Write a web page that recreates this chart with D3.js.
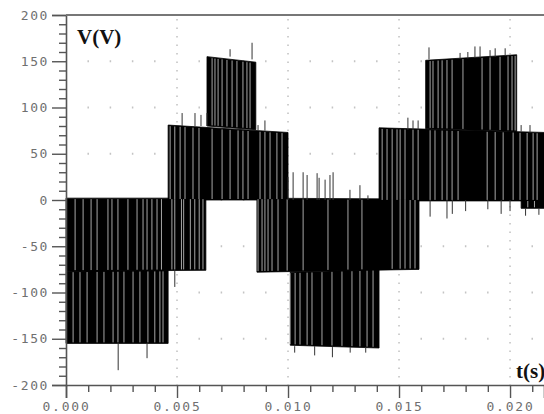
<!DOCTYPE html>
<html><head><meta charset="utf-8">
<script src="https://cdn.jsdelivr.net/npm/d3@7/dist/d3.min.js"></script>
<style>
html,body{margin:0;padding:0;background:#fff;overflow:hidden}
svg{display:block}
</style></head>
<body>
<svg id="chart" width="544" height="414"></svg>
<script>
// ---- data (time in ms, voltage in V) ----
const xMajorTicks = [0, 5, 10, 15, 20];
const xTickLabels = ["0.000", "0.005", "0.010", "0.015", "0.020"];
const yMajorTicks = [-200, -150, -100, -50, 0, 50, 100, 150, 200];
const yTickLabels = ["-200", "-150", "-100", "-50", "0", "50", "100", "150", "200"];

// voltage bands (dense PWM switching between two levels)
const bandT0  = [0,    0,    4.6,  6.35, 8.6,  10.1, 14.1, 16.2, 20.5];
const bandT1  = [6.3,  4.6,  10.0, 8.55, 15.9, 14.1, 21.6, 20.3, 21.6];
const bandLo0 = [-77, -155,  0,    80,  -78,  -157, -1,    77,  -9];
const bandLo1 = [-76, -155,  0,    76,  -75,  -160, -1,    74,  -9];
const bandHi0 = [2,   -77,   81,   155,  2,   -78,   78,   151,  0];
const bandHi1 = [2,   -76,   73,   149,  1,   -75,   73,   157,  0];

// white gaps between pulses, per band
const gapsA1 = [0.41, 0.77, 1.13, 1.4, 1.89, 2.07, 2.34, 2.79, 3.2, 3.47, 3.65, 3.87, 4.1, 4.3, 4.77, 4.9, 5.2, 5.3, 5.6, 5.8, 6.0, 6.17];
const gapsA2 = [0.32, 0.63, 0.95, 1.4, 1.71, 2.12, 2.34, 2.61, 3.02, 3.33, 3.69, 4.0, 4.23, 4.37];
const gapsB1 = [4.69, 4.9, 5.14, 5.36, 5.72, 5.99, 6.58, 7.03, 7.39, 7.75, 7.97, 8.2, 8.74, 8.96, 9.19, 9.5, 9.73];
const gapsB2 = [6.58, 6.71, 6.85, 7.03, 7.25, 7.48, 7.7, 7.97, 8.15, 8.29];
const gapsC1 = [8.65, 8.83, 8.96, 9.1, 9.28, 9.55, 9.96, 10.68, 11.8, 12.7, 13.33, 14.69, 15.05, 15.27, 15.5, 15.72];
const gapsC2 = [10.09, 10.32, 10.54, 10.86, 11.08, 11.53, 11.98, 12.43, 12.88, 13.24, 13.56, 13.83];
const gapsD1 = [14.24, 14.46, 14.69, 14.91, 15.05, 15.27, 15.63, 15.86, 16.4, 16.62, 16.94, 17.16, 17.39, 17.66, 18.97, 19.33, 19.69, 20.14, 20.45, 20.77, 21.04, 21.22];
const gapsD2 = [16.4, 16.53, 16.76, 16.94, 17.16, 17.39, 17.88, 18.74, 19.1, 19.55, 19.91, 20.09, 20.23];
const gapsE  = [20.8, 21.1];
const bandGaps = [gapsA1, gapsA2, gapsB1, gapsB2, gapsC1, gapsC2, gapsD1, gapsD2, gapsE];

// overshoot spikes
const spikeT  = [2.35, 3.65, 4.9, 5.23, 5.81, 6.08, 6.35, 7.39, 8.38, 8.65, 8.96,
                 10.0, 10.23, 10.68, 10.86, 11.31, 11.4, 11.67, 11.89, 12.03, 12.79, 13.24, 13.6,
                 10.3, 11.2, 12.0, 12.8, 13.5,
                 15.4, 15.63, 15.86, 16.35, 17.75, 18.1, 18.42, 18.65, 19.1, 19.33, 19.78, 20.5, 20.9,
                 16.4, 17.16, 17.4, 18.0, 19.0, 19.6, 20.0, 20.7, 21.3];
const spikeV0 = [-155, -155, -76, 80, 80, 80, 80, 155, 152, 75, 75,
                 0, 0, 0, 0, 0, 0, 0, 0, 0, 0, 0, 0,
                 -158, -158, -159, -159, -159,
                 76, 76, 76, 152, 153, 153, 154, 154, 155, 155, 156, 74, 73,
                 0, 0, 0, 0, 0, 0, 0, -9, -9];
const spikeV1 = [-184, -171, -94, 94, 94, 92, 94, 163, 170, 81, 86,
                 25, 30, 30, 27, 29, 24, 22, 27, 30, 11, 16, 5,
                 -165, -168, -170, -165, -165,
                 89, 86, 86, 165, 159, 160, 166, 166, 162, 164, 164, 81, 81,
                 -18, -20, -15, -12, -10, -15, -12, -17, -16];

// ---- drawing ----
const svg = d3.select("#chart");
const x = d3.scaleLinear().domain([0, 21.53]).range([66, 544]);
const y = d3.scaleLinear().domain([-200, 200]).range([385, 15]);

// grid dots at minor x / major y
const gridG = svg.append("g");
const minorX = d3.range(1, 22).filter(t => t % 5 !== 0);
const gridY = yMajorTicks.filter(v => v > -200 && v < 200);
minorX.forEach(t => gridY.forEach(v => {
  gridG.append("rect").attr("x", x(t) - 0.75).attr("y", y(v) - 1)
    .attr("width", 1.5).attr("height", 2).attr("fill", "#c4c4c4");
}));
// dotted vertical gridlines at major x
gridG.selectAll("line.vg").data(xMajorTicks.filter(t => t > 0)).enter().append("line")
  .attr("x1", d => x(d)).attr("x2", d => x(d))
  .attr("y1", y(200) + 4).attr("y2", y(-200))
  .attr("stroke", "#b0b0b0").attr("stroke-width", 1.2)
  .attr("stroke-dasharray", "1.5,7");

// bands
const plotG = svg.append("g");
const bands = bandT0.map((t0, i) => ({t0, t1: bandT1[i], lo0: bandLo0[i], lo1: bandLo1[i], hi0: bandHi0[i], hi1: bandHi1[i], gaps: bandGaps[i]}));
plotG.selectAll("polygon").data(bands).enter().append("polygon")
  .attr("points", b => [[x(b.t0), y(b.lo0)], [x(b.t1), y(b.lo1)], [x(b.t1), y(b.hi1)], [x(b.t0), y(b.hi0)]].map(p => p.join(",")).join(" "))
  .attr("fill", "#000").attr("stroke", "#000").attr("stroke-width", 0.8);

// gaps
bands.forEach(b => {
  const lo = d3.scaleLinear().domain([b.t0, b.t1]).range([b.lo0, b.lo1]);
  const hi = d3.scaleLinear().domain([b.t0, b.t1]).range([b.hi0, b.hi1]);
  plotG.append("g").selectAll("line").data(b.gaps).enter().append("line")
    .attr("x1", d => x(d)).attr("x2", d => x(d))
    .attr("y1", d => y(hi(d)) + 1).attr("y2", d => y(lo(d)) - 1)
    .attr("stroke", "#fff").attr("stroke-opacity", 0.65).attr("stroke-width", 1);
});

// spikes
plotG.selectAll("line.sp").data(spikeT).enter().append("line")
  .attr("x1", d => x(d)).attr("x2", d => x(d))
  .attr("y1", (d, i) => y(spikeV0[i])).attr("y2", (d, i) => y(spikeV1[i]))
  .attr("stroke", "#333").attr("stroke-width", 1);

// axes
const fontMono = "'DejaVu Sans Mono', monospace";
const yMinor = d3.range(-200, 201, 10).filter(v => v % 50 !== 0);
svg.append("g").attr("transform", "translate(66,0)")
  .call(d3.axisLeft(y).tickValues(yMinor).tickSize(7).tickFormat(""))
  .call(g => g.select(".domain").remove())
  .call(g => g.selectAll("line").attr("stroke", "#555").attr("stroke-width", 1.4));
svg.append("g").attr("transform", "translate(66,0)")
  .call(d3.axisLeft(y).tickValues(yMajorTicks).tickSize(14).tickPadding(3)
    .tickFormat((d, i) => yTickLabels[i]))
  .call(g => g.select(".domain").attr("stroke", "#555").attr("stroke-width", 1.6))
  .call(g => g.selectAll("line").attr("stroke", "#555").attr("stroke-width", 1.4))
  .call(g => g.selectAll("text").attr("font-family", fontMono).attr("font-size", 13)
    .attr("fill", "#707070").style("letter-spacing", "1.6px"));

const xMinor = d3.range(0, 22).filter(t => t % 5 !== 0);
svg.append("g").attr("transform", "translate(0,385)")
  .call(d3.axisBottom(x).tickValues(xMinor).tickSize(7).tickFormat(""))
  .call(g => g.select(".domain").remove())
  .call(g => g.selectAll("line").attr("stroke", "#555").attr("stroke-width", 1.4));
svg.append("g").attr("transform", "translate(0,385)")
  .call(d3.axisBottom(x).tickValues(xMajorTicks).tickSize(13).tickPadding(4)
    .tickFormat((d, i) => xTickLabels[i]))
  .call(g => g.select(".domain").attr("stroke", "#555").attr("stroke-width", 1.6))
  .call(g => g.selectAll("line").attr("stroke", "#555").attr("stroke-width", 1.4))
  .call(g => g.selectAll("text").attr("font-family", fontMono).attr("font-size", 13)
    .attr("fill", "#707070").style("letter-spacing", "1.8px"));

// top border
svg.append("line").attr("x1", 66).attr("x2", 544).attr("y1", y(200)).attr("y2", y(200))
  .attr("stroke", "#777").attr("stroke-width", 2);

// axis titles
svg.append("text").attr("x", 77).attr("y", 44).text("V(V)")
  .attr("font-family", "'Liberation Serif', serif").attr("font-weight", "bold").attr("font-size", 21).attr("fill", "#111");
svg.append("text").attr("x", 516).attr("y", 378).text("t(s)")
  .attr("font-family", "'Liberation Serif', serif").attr("font-weight", "bold").attr("font-size", 21).attr("fill", "#111");
</script>
</body></html>
